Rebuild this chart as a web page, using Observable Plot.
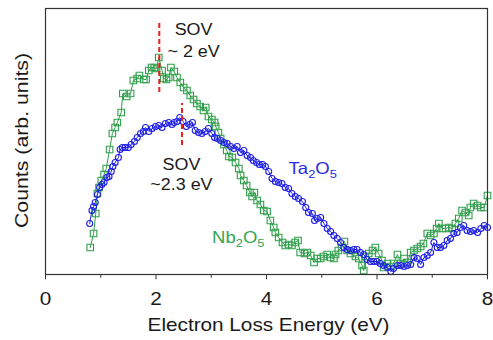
<!DOCTYPE html>
<html><head><meta charset="utf-8">
<script src="https://cdn.jsdelivr.net/npm/d3@7"></script>
<script src="https://cdn.jsdelivr.net/npm/@observablehq/plot@0.6"></script>
<style>
html,body{margin:0;padding:0;background:#fff;}
#chart svg{display:block;}
</style></head><body><div id="chart"></div>
<script>
// Nb2O5 (green squares)
const nbEnergy = [0.81,0.87,0.91,0.94,0.97,1.01,1.06,1.10,1.16,1.21,1.26,1.30,1.37,1.40,1.47,1.54,1.59,1.66,1.70,1.78,1.82,1.87,1.92,1.97,2.01,2.05,2.11,2.14,2.19,2.23,2.27,2.33,2.38,2.44,2.50,2.56,2.62,2.68,2.74,2.80,2.86,2.90,2.95,3.01,3.06,3.08,3.13,3.17,3.23,3.28,3.32,3.38,3.44,3.50,3.53,3.59,3.64,3.70,3.74,3.78,3.83,3.89,3.95,4.01,4.07,4.13,4.16,4.22,4.29,4.34,4.40,4.46,4.52,4.57,4.61,4.69,4.74,4.80,4.86,4.92,4.98,5.03,5.10,5.16,5.22,5.25,5.30,5.36,5.41,5.46,5.52,5.61,5.67,5.73,5.76,5.79,5.85,5.92,5.97,6.03,6.09,6.12,6.19,6.25,6.30,6.37,6.43,6.49,6.55,6.61,6.67,6.73,6.79,6.84,6.91,6.97,7.03,7.08,7.12,7.18,7.24,7.30,7.36,7.42,7.48,7.54,7.60,7.66,7.69,7.75,7.82,7.88,7.94,8.00];
const nbCounts = [27,41,61,81,87,94,100,106,125,141,147,152,162,181,178,181,194,196,199,195,195,204,207,207,206,217,204,196,195,197,207,203,197,192,187,184,179,175,171,168,164,167,158,155,152,148,142,136,130,124,118,117,112,106,99,94,89,82,78,82,74,70,64,63,54,47,42,37,32,29,30,29,32,34,22,21,22,19,12,16,16,18,20,17,16,20,24,27,33,24,21,18,16,9,4,18,21,24,27,21,14,7,11,8,11,20,11,16,12,22,24,26,28,31,41,39,41,46,51,46,46,47,46,51,56,64,62,59,67,71,69,67,67,79];
// Ta2O5 (blue circles)
const taEnergy = [0.80,0.84,0.87,0.90,0.94,0.98,1.02,1.06,1.11,1.15,1.19,1.22,1.26,1.32,1.35,1.39,1.44,1.50,1.55,1.61,1.66,1.72,1.77,1.81,1.87,1.93,1.99,2.05,2.11,2.17,2.23,2.29,2.33,2.38,2.43,2.49,2.55,2.61,2.66,2.71,2.77,2.83,2.89,2.95,3.01,3.06,3.11,3.17,3.23,3.29,3.35,3.41,3.47,3.53,3.59,3.65,3.71,3.76,3.82,3.87,3.93,3.98,4.04,4.10,4.16,4.22,4.28,4.34,4.40,4.46,4.52,4.58,4.65,4.71,4.76,4.83,4.87,4.92,4.98,5.04,5.10,5.16,5.22,5.28,5.34,5.40,5.46,5.52,5.58,5.64,5.70,5.76,5.82,5.88,5.94,6.00,6.06,6.12,6.19,6.25,6.30,6.37,6.43,6.49,6.55,6.61,6.67,6.73,6.79,6.85,6.91,6.97,7.03,7.09,7.15,7.21,7.27,7.33,7.39,7.45,7.51,7.57,7.63,7.69,7.75,7.82,7.88,7.94,8.00];
const taCounts = [51,64,68,72,80,87,90,92,97,98,103,108,112,117,125,127,127,127,130,133,137,141,143,147,143,146,148,149,147,151,152,150,152,153,157,153,148,150,152,144,142,141,143,146,141,137,136,134,132,131,128,126,128,122,124,119,117,114,112,110,110,108,103,96,93,92,91,87,86,81,78,76,73,67,62,61,54,56,57,51,46,43,39,36,32,27,25,24,25,25,22,20,15,13,13,13,11,9,7,3,6,9,9,8,9,10,17,16,10,17,19,22,32,27,27,29,34,36,41,42,47,49,44,43,44,42,46,49,47];
// SOV markers (energy, counts range of dashed line)
const sovEnergy = [2.06, 2.47];
const sovFrom = [182, 129];
const sovTo = [251, 171];
const sovText = ["SOV\n~ 2 eV", "SOV\n~2.3 eV"];
const xTicksMajor = [0, 2, 4, 6, 8];
const xTicksMinor = [1, 3, 5, 7];
const xLabel = "Electron Loss Energy (eV)";
const yLabel = "Counts (arb. units)";

const nb = nbEnergy.map((e, i) => ({e, c: nbCounts[i]}));
const ta = taEnergy.map((e, i) => ({e, c: taCounts[i]}));
const sov = sovEnergy.map((e, i) => ({e, y1: sovFrom[i], y2: sovTo[i]}));

const font = "'Liberation Sans', Arial, sans-serif";
const green = "#2e9e4a", blue = "#1e1ee6", red = "#ee1c1c", ink = "#1a1a1a";

const chart = Plot.plot({
  width: 493, height: 340,
  marginLeft: 45, marginRight: 6, marginTop: 8, marginBottom: 66,
  style: {fontFamily: font, background: "#fff", color: ink},
  x: {domain: [0, 8], axis: null},
  y: {domain: [0, 266], axis: null},
  marks: [
    Plot.axisX({ticks: xTicksMinor, tickSize: 3.7, tickFormat: () => "", label: null, stroke: "#333"}),
    Plot.axisX({ticks: xTicksMajor, tickSize: 5.3, tickPadding: 12.5, fontSize: 18.5, label: null, tickFormat: d => String(d), stroke: "#333", fill: ink}),
    Plot.line(nb, {x: "e", y: "c", stroke: green, strokeWidth: 1}),
    Plot.dot(nb, {x: "e", y: "c", symbol: "square", r: 3.7, stroke: green, fill: "none", strokeWidth: 1.1}),
    Plot.line(ta, {x: "e", y: "c", stroke: blue, strokeWidth: 1}),
    Plot.dot(ta, {x: "e", y: "c", symbol: "circle", r: 3, stroke: blue, fill: "none", strokeWidth: 1.1}),
    Plot.ruleX(sov, {x: "e", y1: "y1", y2: "y2", stroke: red, strokeWidth: 2, strokeDasharray: "5,3"}),
    Plot.text([{x: 2.68, y: 254, t: sovText[0]}], {x: "x", y: "y", text: "t", lineAnchor: "top", lineHeight: 1.32, fontSize: 16, fill: ink}),
    Plot.text([{x: 2.46, y: 118, t: sovText[1]}], {x: "x", y: "y", text: "t", lineAnchor: "top", lineHeight: 1.23, fontSize: 16, fill: ink}),
    Plot.text([{x: 4.40, y: 100.7, t: "Ta2O5"}], {x: "x", y: "y", text: "t", lineAnchor: "bottom", textAnchor: "start", fontSize: 16.5, fill: "#2a2ae6"}),
    Plot.text([{x: 3.015, y: 31.5, t: "Nb2O5"}], {x: "x", y: "y", text: "t", lineAnchor: "bottom", textAnchor: "start", fontSize: 16.5, fill: "#35a552"}),
    Plot.text([xLabel], {frameAnchor: "bottom", lineAnchor: "bottom", textAnchor: "middle", dy: 56.7, dx: 2, fontSize: 18.5, fill: ink}),
    Plot.text([yLabel], {frameAnchor: "left", rotate: -90, lineAnchor: "bottom", textAnchor: "middle", dx: -17.7, dy: -1, fontSize: 19, fill: ink}),
    Plot.frame({stroke: "#333", strokeWidth: 1.2})
  ]
});
document.getElementById("chart").appendChild(chart);

// chemical formulas with subscripts
const NS = "http://www.w3.org/2000/svg";
chart.querySelectorAll("text").forEach(t => {
  const s = t.textContent;
  if (s === "Ta2O5" || s === "Nb2O5") {
    while (t.firstChild) t.removeChild(t.firstChild);
    const parts = [[s.slice(0, 2), 0, null], ["2", 4, 11.5], ["O", -4, null], ["5", 4, 11.5]];
    parts.forEach(([txt, dy, fs]) => {
      const sp = document.createElementNS(NS, "tspan");
      if (dy) sp.setAttribute("dy", dy);
      if (fs) sp.setAttribute("font-size", fs);
      sp.textContent = txt;
      t.appendChild(sp);
    });
  }
});

// the reference text is slightly wider than the font's natural width
const STRETCH = 1.12;
chart.querySelectorAll("text").forEach(t => {
  const lines = t.querySelectorAll(":scope > tspan[x]");
  const targets = lines.length ? Array.from(lines) : [t];
  targets.forEach(el => {
    const w = el.getComputedTextLength();
    if (w > 0) {
      el.setAttribute("textLength", (w * STRETCH).toFixed(2));
      el.setAttribute("lengthAdjust", "spacingAndGlyphs");
    }
  });
});
</script></body></html>
